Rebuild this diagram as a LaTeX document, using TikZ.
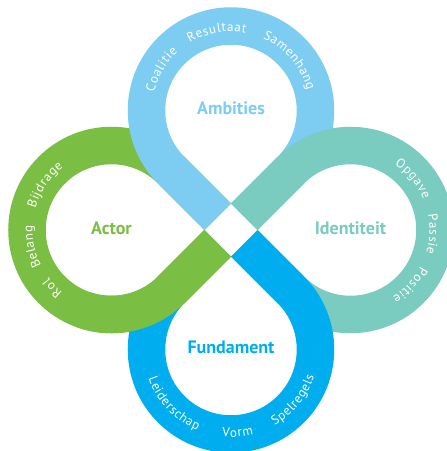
\documentclass[tikz,border=0pt]{standalone}
\usepackage{fontspec}
\setmainfont{PT Sans}
\usetikzlibrary{decorations.text}
\definecolor{lblue}{RGB}{125,205,242}
\definecolor{teal2}{RGB}{122,203,192}
\definecolor{dblue}{RGB}{0,174,239}
\definecolor{green2}{RGB}{122,190,67}
\newcommand\ringtxt{\fontsize{13}{14}\selectfont}
\tikzset{ringdeco/.style={decorate,font=\ringtxt,decoration={text effects along path,text={#1},text align=center,
  text effects/.cd,text along path,characters={text=white,font=\ringtxt},character widths={inner xsep=0.35pt}}}}
% clockwise word: cx, cy, angle, radius, word
\newcommand\ringcw[5]{\path[ringdeco={#5}]
  ([shift={(#1,#2)}]#3+60:#4) arc[start angle=#3+60,end angle=#3-60,radius=#4];}
\newcommand\ringccw[5]{\path[ringdeco={#5}]
  ([shift={(#1,#2)}]#3-60:#4) arc[start angle=#3-60,end angle=#3+60,radius=#4];}
\begin{document}
\begin{tikzpicture}[x=1pt,y=1pt,
  ring/.style={line width=37.5pt,line cap=butt},
  lbl/.style={font=\fontsize{18}{19}\selectfont\bfseries,inner sep=0pt}]
\useasboundingbox (-231,-221) rectangle (216,230);
\clip (-231,-221) rectangle (216,230);
\def\d{119.5}\def\r{84.5}\def\a{13.25}\def\h{59.75}
% green (left)
\draw[ring,green2] (-\a,\a) -- (-\h,\h) arc[start angle=45,end angle=315,radius=\r] -- (-\a,-\a);
% light blue (top)
\draw[ring,lblue] (-\a,\a) -- (-\h,\h) arc[start angle=225,end angle=-45,radius=\r] -- (\a,\a);
% teal (right)
\draw[ring,teal2] (\a,\a) -- (\h,\h) arc[start angle=135,end angle=-135,radius=\r] -- (\a,-\a);
% blue (bottom)
\draw[ring,dblue] (\a,-\a) -- (\h,-\h) arc[start angle=45,end angle=-225,radius=\r] -- (-\a,-\a);
% green lower arm on top of blue
\draw[ring,green2] (-\a,-\a) -- (-\h,-\h) arc[start angle=315,end angle=250,radius=\r];
% labels
\node[lbl,text=lblue] (amb) at (0,122) {Ambities};
\node[lbl,text=green2] (act) at (-119.5,2) {Actor};
\node[lbl,text=teal2] (ide) at (119.5,2) {Identiteit};
\node[lbl,text=dblue] (fun) at (0,-117) {Fundament};
% ring words
\ringcw{0}{119.5}{149.5}{79}{Coalitie}
\ringcw{0}{119.5}{100.3}{79}{Resultaat}
\ringcw{0}{119.5}{40.5}{79}{Samenhang}
\ringcw{-119.5}{0}{146}{79}{Bijdrage}
\ringcw{-119.5}{0}{191.8}{79}{Belang}
\ringcw{-119.5}{0}{224.5}{79}{Rol}
\ringcw{119.5}{0}{39.5}{79}{Opgave}
\ringcw{119.5}{0}{-2.9}{79}{Passie}
\ringcw{119.5}{0}{-42.7}{79}{Positie}
\ringccw{0}{-119.5}{223.3}{87.5}{Leiderschap}
\ringccw{0}{-119.5}{274.5}{87.5}{Vorm}
\ringccw{0}{-119.5}{321}{87.5}{Spelregels}
\end{tikzpicture}
\end{document}
